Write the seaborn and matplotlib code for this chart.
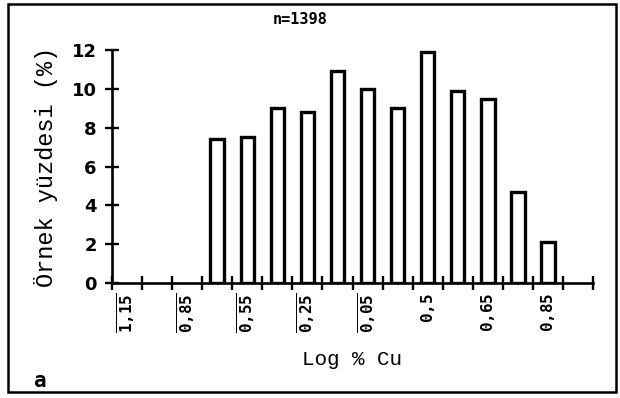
import matplotlib
matplotlib.use("Agg")
import matplotlib.pyplot as plt
import seaborn as sns
import pandas as pd

# Histogram of log Cu values: 16 class intervals, 12 occupied
class_ids = [f"c{i}" for i in range(16)]
occupied = class_ids[3:15]
percent = [7.4, 7.5, 9.0, 8.8, 10.9, 10.0, 9.0, 11.9, 9.9, 9.5, 4.7, 2.1]
tick_labels = ["1,15", "0,85", "0,55", "0,25", "0,05", "0,5", "0,65", "0,85"]
negative = [True, True, True, True, True, False, False, False]
y_ticks = [0, 2, 4, 6, 8, 10, 12]
n_samples = 1398

sns.set_theme(style="white")
plt.rcParams["font.family"] = ["DejaVu Sans Mono"]
plt.rcParams["mathtext.fontset"] = "custom"
plt.rcParams["mathtext.rm"] = "DejaVu Sans Mono:bold"
plt.rcParams["mathtext.it"] = "DejaVu Sans Mono:bold"
plt.rcParams["mathtext.bf"] = "DejaVu Sans Mono:bold"
for key in ("text.color", "axes.labelcolor", "xtick.color", "ytick.color"):
    plt.rcParams[key] = "black"

fig = plt.figure(figsize=(6.2, 3.98), dpi=100)
ax = fig.add_axes([112 / 620, 1 - 283 / 398, (593 - 112) / 620, (283 - 50) / 398])

df = pd.DataFrame({"klass": occupied, "yuzde": percent})
sns.barplot(data=df, x="klass", y="yuzde", order=class_ids, ax=ax,
            color="white", edgecolor="black", linewidth=2.4, width=0.45,
            saturation=1)

ax.set_xlim(-0.5, 15.5)
ax.set_ylim(0, 12)
sns.despine(ax=ax)
for side in ("left", "bottom"):
    ax.spines[side].set_linewidth(1.9)
    ax.spines[side].set_color("black")

# tick marks cross the axes at class boundaries
ax.set_xticks([i - 0.5 for i in range(17)])
ax.set_xticklabels([""] * 17)
ax.tick_params(axis="x", which="major", direction="inout", length=10,
               width=1.7, color="black", bottom=True)
ax.set_xticks([2 * i for i in range(len(tick_labels))], minor=True)
labels = [r"$\overline{\mathrm{%s}}$" % t.replace(",", "{,}") if neg
          else r"$\mathrm{%s}$" % t.replace(",", "{,}")
          for t, neg in zip(tick_labels, negative)]
ax.set_xticklabels(labels, minor=True, rotation=90, fontsize=11.5)
ax.tick_params(axis="x", which="minor", length=0, pad=7)

ax.set_yticks(y_ticks)
ax.set_yticklabels([str(v) for v in y_ticks], fontsize=13, fontweight="bold",
                   family="DejaVu Sans")
ax.tick_params(axis="y", direction="inout", length=10, width=1.7,
               color="black", left=True, pad=6)

ax.set_xlabel("Log % Cu", fontsize=15, labelpad=12,
              family="Liberation Mono")
ax.set_ylabel("Örnek yüzdesi (%)", fontsize=17, labelpad=10,
              family="Liberation Mono")

fig.text(300 / 620, 1 - 19 / 398, f"n={n_samples}", ha="center",
         va="center", fontsize=11, fontweight="bold")
fig.text(40 / 620, 1 - 381 / 398, "a", ha="center", va="center",
         fontsize=15, fontweight="bold")

# outer frame around the panel
frame = plt.Rectangle((8 / 620, 1 - 392 / 398), (616 - 8) / 620,
                      (392 - 4) / 398, transform=fig.transFigure,
                      fill=False, edgecolor="black", linewidth=1.8)
fig.patches.append(frame)

fig.savefig("out.png", dpi=100)
